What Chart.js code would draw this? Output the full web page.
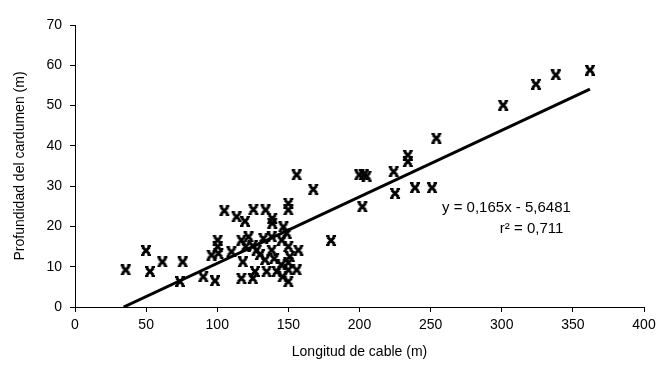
<!DOCTYPE html>
<html>
<head>
<meta charset="utf-8">
<script src="https://cdn.jsdelivr.net/npm/chart.js@4.4.1/dist/chart.umd.min.js"></script>
<style>
  html, body { margin: 0; background: #fff; }
</style>
</head>
<body>
<canvas id="chart" width="661" height="368"></canvas>
<script>
// cable length (m) vs school depth (m)
const longitud = [
  35.6, 49.9, 52.7, 61.4, 75.7, 73.8, 90.2, 98.4, 100.3, 100.3, 96, 100.8,
  105, 113.6, 119.5, 125.4, 134, 138.7, 138.7, 150, 150, 146.5, 155.8, 167.5,
  180, 199.9, 202, 110, 117, 122, 118, 117, 125, 126.5, 127.7, 132.4, 133.6,
  138.3, 138.3, 134.7, 141.8, 145.3, 148.8, 150, 151, 150, 150, 155.8, 157,
  203, 205, 224, 234, 234, 225, 239, 251, 254, 301, 324, 338, 362,
  120, 125, 130, 140, 145, 150, 146,
];
const profundidad = [
  9.2, 14.0, 8.8, 11.2, 11.2, 6.3, 7.5, 6.5, 16.6, 15.0, 12.9, 13.3,
  23.9, 22.4, 21.3, 24.2, 24.1, 22.0, 20.8, 25.7, 24.1, 19.9, 32.8, 29.2,
  16.5, 32.8, 24.9, 13.7, 16.6, 17.4, 11.2, 7.1, 7.1, 8.8, 14.1, 17.0, 11.7,
  17.4, 14.1, 8.8, 8.8, 16.6, 18.3, 15.0, 12.5, 9.2, 6.3, 9.2, 14.1,
  32.8, 32.5, 33.6, 37.7, 36.1, 28.2, 29.6, 29.6, 41.9, 50.1, 55.3, 57.6, 58.8,
  15.0, 15.2, 13.0, 12.0, 10.5, 11.0, 7.5,
];

// trend line from the printed equation
const pendiente = 0.165;
const intercepto = -5.6481;
const r2 = '0,711';
const lineaDesde = 34.2;
const lineaHasta = 362;

const xTicks = [0, 50, 100, 150, 200, 250, 300, 350, 400];
const yTicks = [0, 10, 20, 30, 40, 50, 60, 70];

const FONT = 'Liberation Sans, Arial, sans-serif';

// Excel style bold "x" marker with little serifs at the tips
function makeMarker() {
  const c = document.createElement('canvas');
  c.width = 12; c.height = 11;
  const g = c.getContext('2d');
  g.strokeStyle = '#000';
  g.lineWidth = 3;
  g.beginPath();
  g.moveTo(2.5, 2); g.lineTo(9.5, 9);
  g.moveTo(9.5, 2); g.lineTo(2.5, 9);
  g.stroke();
  g.lineWidth = 2;
  g.beginPath();
  g.moveTo(1, 1); g.lineTo(4.5, 1);
  g.moveTo(7.5, 1); g.lineTo(11, 1);
  g.moveTo(1, 10); g.lineTo(4.5, 10);
  g.moveTo(7.5, 10); g.lineTo(11, 10);
  g.stroke();
  return c;
}

const puntos = longitud.map((x, i) => ({ x, y: profundidad[i] }));
const linea = [lineaDesde, lineaHasta].map((x) => ({ x, y: pendiente * x + intercepto }));

const fmt = (v) => String(Math.abs(v)).replace('.', ',');
const ecuacion = `y = ${fmt(pendiente)}x - ${fmt(intercepto)}`;

const textoEcuacion = {
  id: 'textoEcuacion',
  afterDatasetsDraw(chart) {
    const { ctx, scales: { x, y } } = chart;
    ctx.save();
    ctx.fillStyle = '#000';
    ctx.font = `15px ${FONT}`;
    ctx.textBaseline = 'middle';
    ctx.textAlign = 'left';
    ctx.fillText(ecuacion, x.getPixelForValue(258), y.getPixelForValue(24.6));
    ctx.textAlign = 'center';
    ctx.fillText(`r² = ${r2}`, x.getPixelForValue(321), y.getPixelForValue(19.4));
    ctx.restore();
  },
};

new Chart(document.getElementById('chart'), {
  type: 'scatter',
  data: {
    datasets: [
      {
        data: puntos,
        pointStyle: makeMarker(),
        pointRadius: 5,
        pointHoverRadius: 5,
      },
      {
        type: 'line',
        data: linea,
        borderColor: '#000',
        borderWidth: 3,
        pointRadius: 0,
        fill: false,
      },
    ],
  },
  options: {
    responsive: false,
    animation: false,
    events: [],
    layout: { padding: { top: 25, right: 17, left: 0, bottom: 0 } },
    plugins: { legend: { display: false }, tooltip: { enabled: false } },
    scales: {
      x: {
        type: 'linear',
        min: 0,
        max: 400,
        afterBuildTicks: (s) => { s.ticks = xTicks.map((v) => ({ value: v })); },
        afterFit: (s) => { s.height = 61; },
        ticks: { color: '#000', font: { family: FONT, size: 14 }, padding: 5, maxRotation: 0 },
        grid: { drawOnChartArea: false, drawTicks: true, tickLength: 5, color: '#000' },
        border: { color: '#000', width: 1 },
        title: {
          display: true,
          text: 'Longitud de cable (m)',
          color: '#000',
          font: { family: FONT, size: 14 },
          padding: { top: 4, bottom: 7 },
        },
      },
      y: {
        min: 0,
        max: 70,
        afterBuildTicks: (s) => { s.ticks = yTicks.map((v) => ({ value: v })); },
        afterFit: (s) => { s.width = 75; },
        ticks: { color: '#000', font: { family: FONT, size: 14 }, padding: 8 },
        grid: { drawOnChartArea: false, drawTicks: true, tickLength: 5, color: '#000' },
        border: { color: '#000', width: 1 },
        title: {
          display: true,
          text: 'Profundidad del cardumen (m)',
          color: '#000',
          font: { family: FONT, size: 14 },
          padding: { top: 12, bottom: 0 },
        },
      },
    },
  },
  plugins: [textoEcuacion],
});
</script>
</body>
</html>
